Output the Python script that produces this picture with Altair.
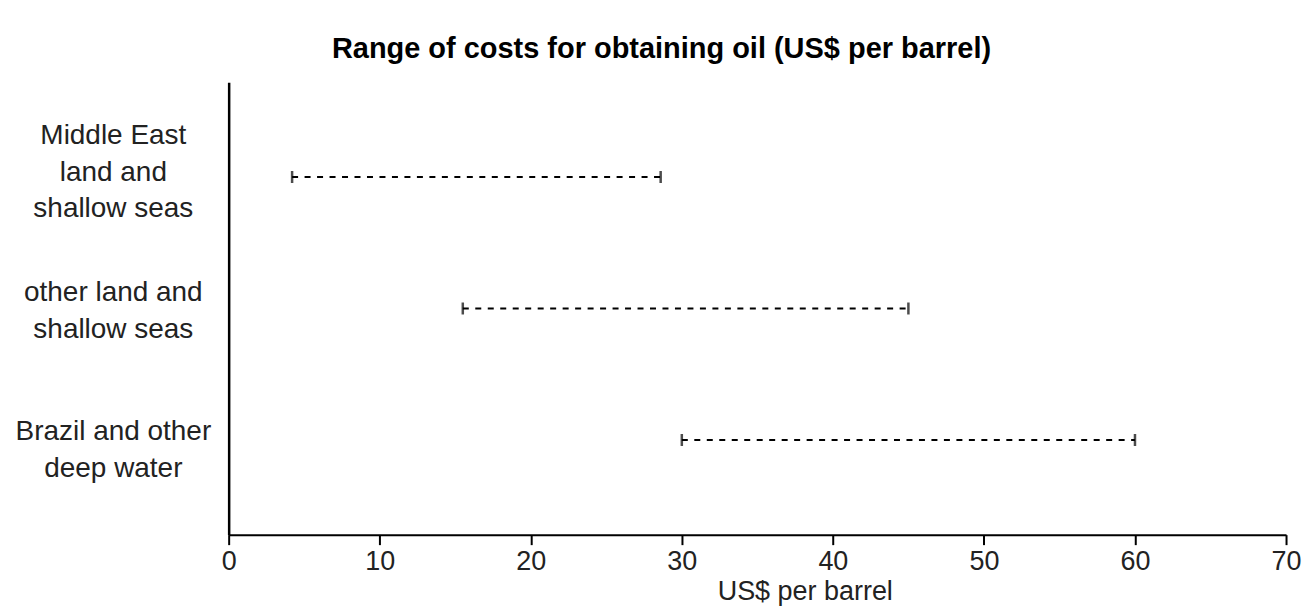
import altair as alt
import pandas as pd

regions = ["Middle East land and shallow seas", "other land and shallow seas", "Brazil and other deep water"]
region_labels = ["Middle East|land and|shallow seas", "other land and|shallow seas", "Brazil and other|deep water"]
label_offsets = [-42, -16, -8]
low_cost = [4.2, 15.5, 30.0]
high_cost = [28.6, 45.0, 60.0]
x_ticks = [0, 10, 20, 30, 40, 50, 60, 70]

df = pd.DataFrame({"region": regions, "label": region_labels, "low": low_cost, "high": high_cost})

label_map = "{" + ",".join(f"'{r}':'{l}'" for r, l in zip(regions, region_labels)) + "}"

FONT = "Liberation Sans"

label_offset_cond = {
    "condition": [
        {"test": f"datum.value === '{regions[0]}'", "value": label_offsets[0]},
        {"test": f"datum.value === '{regions[1]}'", "value": label_offsets[1]},
    ],
    "value": label_offsets[2],
}

y_enc = alt.Y(
    "region:N",
    sort=regions,
    scale=alt.Scale(type="point", padding=0.72),
    axis=alt.Axis(
        title=None,
        ticks=False,
        grid=False,
        domainWidth=2.5,
        domainColor="black",
        labelAlign="center",
        labelBaseline="middle",
        labelPadding=116,
        labelOffset=label_offset_cond,
        labelFontSize=28,
        labelLineHeight=37,
        labelFont=FONT,
        labelColor="#222",
        labelLimit=400,
        labelExpr=f"split({label_map}[datum.label], '|')",
    ),
)

x_scale = alt.Scale(domain=[0, 70], nice=False, zero=True)
x_axis = alt.Axis(
    values=x_ticks,
    title="US$ per barrel",
    titleFont=FONT,
    titleFontSize=27,
    titleFontWeight="normal",
    titleColor="#222",
    titleX=577,
    titleY=57,
    titleAlign="center",
    titleBaseline="middle",
    grid=False,
    domainWidth=2,
    domainColor="black",
    tickSize=10,
    tickWidth=2,
    tickColor="black",
    labelFontSize=27,
    labelFont=FONT,
    labelColor="#222",
    labelPadding=4,
    labelFlush=False,
)

base = alt.Chart(df)

rules = base.mark_rule(color="black", strokeWidth=2, strokeDash=[6, 6.5]).encode(
    x=alt.X("low:Q", scale=x_scale, axis=x_axis),
    x2="high:Q",
    y=y_enc,
)
ticks_low = base.mark_tick(color="black", size=12, thickness=2.5).encode(
    x=alt.X("low:Q", scale=x_scale), y=alt.Y("region:N", sort=regions)
)
ticks_high = base.mark_tick(color="black", size=12, thickness=2.5).encode(
    x=alt.X("high:Q", scale=x_scale), y=alt.Y("region:N", sort=regions)
)

chart = (
    alt.layer(rules, ticks_low, ticks_high)
    .properties(
        width=1059,
        height=453,
        background="white",
        title=alt.TitleParams(
            "Range of costs for obtaining oil (US$ per barrel)",
            font=FONT,
            fontSize=29,
            fontWeight="bold",
            color="black",
            anchor="middle",
            dx=-96,
            offset=18,
        ),
        autosize=alt.AutoSizeParams(type="none"),
        padding={"left": 221, "top": 74, "right": 20, "bottom": 72},
    )
    .configure_view(strokeWidth=0, stroke="transparent")
)

chart.save("out.html", embed_options={"renderer": "svg", "actions": False})
